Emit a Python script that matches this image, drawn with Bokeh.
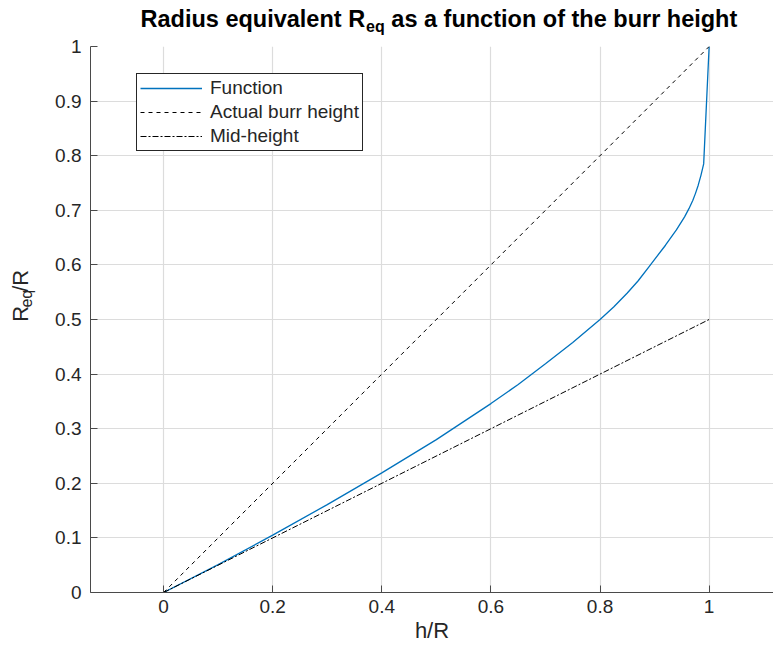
import math
from bokeh.plotting import figure
from bokeh.layouts import column, row
from bokeh.models import Range1d, FixedTicker, Legend, LegendItem
from bokeh.core.properties import value
from bokeh.embed import file_html
from bokeh.resources import INLINE

# ---- data ----
h_over_r = [0, 0.1, 0.2, 0.3, 0.4, 0.5, 0.6, 0.65, 0.7, 0.75, 0.8, 0.825,
            0.85, 0.87, 0.89, 0.92, 0.94, 0.955, 0.963, 0.97, 0.975, 0.98,
            0.985, 0.99, 1.0]
req_over_r = [0, 0.051, 0.105, 0.161, 0.219, 0.28, 0.346, 0.381, 0.419, 0.458,
              0.5, 0.523, 0.5485, 0.571, 0.597, 0.636, 0.664, 0.688, 0.703,
              0.718, 0.731, 0.746, 0.764, 0.785, 1.0]
actual_x = [0, 1]
actual_y = [0, 1]
mid_x = [0, 1]
mid_y = [0, 0.5]

x_ticks = [0, 0.2, 0.4, 0.6, 0.8, 1.0]
x_tick_labels = ["0", "0.2", "0.4", "0.6", "0.8", "1"]
y_ticks = [0, 0.1, 0.2, 0.3, 0.4, 0.5, 0.6, 0.7, 0.8, 0.9, 1.0]
y_tick_labels = ["0", "0.1", "0.2", "0.3", "0.4", "0.5", "0.6", "0.7", "0.8", "0.9", "1"]

legend_labels = ["Function", "Actual burr height", "Mid-height"]
title_parts = ["Radius equivalent R", "eq", "as a function of the burr height"]
ylabel_parts = ["R", "eq", "/R"]
xlabel = "h/R"

FONT = "Liberation Sans"
AXIS_COLOR = "#4a4a4a"
TEXT_COLOR = "#262626"
MID = 0.3465  # em offset between alphabetic baseline and box middle

W, H = 773, 658
TITLE_H = 35
YLAB_W = 48
MAIN_H = H - TITLE_H
FRAME_TOP = 46

# ---------------- main plot ----------------
p = figure(width=W - YLAB_W, height=MAIN_H, output_backend="svg",
           toolbar_location=None, title_location=None,
           x_range=Range1d(-0.134, 1.118), y_range=Range1d(0, 1),
           min_border_left=42, min_border_right=0,
           min_border_top=FRAME_TOP - TITLE_H, min_border_bottom=66)
p.outline_line_color = None
p.background_fill_color = "white"
p.border_fill_color = "white"

r_func = p.line(h_over_r, req_over_r, line_color="#0072BD", line_width=1.3)
r_act = p.line(actual_x, actual_y, line_color="black", line_width=1,
               line_dash="4 4")
r_mid = p.line(mid_x, mid_y, line_color="black", line_width=1,
               line_dash="6 2 2 2")

for ax, ticks, labels in ((p.xaxis[0], x_ticks, x_tick_labels),
                          (p.yaxis[0], y_ticks, y_tick_labels)):
    ax.ticker = FixedTicker(ticks=ticks)
    ax.major_label_overrides = {t: l for t, l in zip(ticks, labels)}
    ax.major_tick_in = 7
    ax.major_tick_out = 0
    ax.minor_tick_line_color = None
    ax.axis_line_color = AXIS_COLOR
    ax.major_tick_line_color = AXIS_COLOR
    ax.major_label_text_font = FONT
    ax.major_label_text_font_size = "19px"
    ax.major_label_text_color = TEXT_COLOR

p.xaxis.major_label_standoff = 7
p.yaxis.major_label_standoff = 9
p.xaxis.axis_label = xlabel
p.xaxis.axis_label_text_font = FONT
p.xaxis.axis_label_text_font_size = "22px"
p.xaxis.axis_label_text_font_style = "normal"
p.xaxis.axis_label_text_color = TEXT_COLOR
p.xaxis.axis_label_standoff = 2

p.xgrid.ticker = FixedTicker(ticks=x_ticks)
p.ygrid.ticker = FixedTicker(ticks=y_ticks)
p.grid.grid_line_color = "#dcdcdc"
p.grid.grid_line_width = 1.2

legend = Legend(items=[LegendItem(label=legend_labels[0], renderers=[r_func]),
                       LegendItem(label=legend_labels[1], renderers=[r_act]),
                       LegendItem(label=legend_labels[2], renderers=[r_mid])],
                location=(46, 441), glyph_width=62, glyph_height=22,
                label_height=22, label_standoff=8, spacing=2, padding=3,
                margin=0, label_text_font=FONT, label_text_font_size="19px",
                label_text_color=TEXT_COLOR, border_line_color=TEXT_COLOR,
                border_line_alpha=1.0, border_line_width=1,
                background_fill_alpha=1.0)
p.add_layout(legend, "center")

# ---------------- title strip (pixel coordinates, y up) ----------------
t = figure(width=W, height=TITLE_H, output_backend="svg", toolbar_location=None,
           title_location=None,
           x_range=Range1d(0, W), y_range=Range1d(0, TITLE_H),
           x_axis_type=None, y_axis_type=None, min_border=0)
t.outline_line_color = None
t.grid.visible = False
TF = 23.5
SF = 16
x1 = 140
x2 = x1 + 9.558 * TF + 1
x3 = x2 + 1.167 * SF + 0.278 * TF
base_main = 27.0   # canvas px, top-down
base_sub = 31.4
ym_main = TITLE_H - (base_main - MID * TF)
ym_sub = TITLE_H - (base_sub - MID * SF)
t.text(x=[x1], y=[ym_main], text=[title_parts[0]], text_font=value(FONT),
       text_font_size=f"{TF}px", text_font_style="bold", text_color="black",
       text_align="left", text_baseline="middle")
t.text(x=[x2], y=[ym_sub], text=[title_parts[1]], text_font=value(FONT),
       text_font_size=f"{SF}px", text_font_style="bold", text_color="black",
       text_align="left", text_baseline="middle")
t.text(x=[x3], y=[ym_main], text=[title_parts[2]], text_font=value(FONT),
       text_font_size=f"{TF}px", text_font_style="bold", text_color="black",
       text_align="left", text_baseline="middle")

# ---------------- y label strip (pixel coordinates, y up) ----------------
yl = figure(width=YLAB_W, height=MAIN_H, output_backend="svg",
            toolbar_location=None, title_location=None,
            x_range=Range1d(0, YLAB_W),
            y_range=Range1d(0, MAIN_H), x_axis_type=None, y_axis_type=None,
            min_border=0)
yl.outline_line_color = None
yl.grid.visible = False
YF = 22
YS = 16
base_r = 28.0      # canvas x of the main baseline
base_e = 32.0      # canvas x of the subscript baseline
start = 348.0      # canvas y where the label starts (bottom end)
wR = 0.722 * YF
wE = 1.112 * YS
wS = 1.0 * YF
c_R = start - wR / 2
c_E = start - wR - 0.5 - wE / 2
c_S = start - wR - 0.5 - wE - 0.5 - wS / 2


def up(cy):
    return H - cy  # canvas y (top-down) -> strip coordinate (y up)


yl.text(x=[base_r - MID * YF], y=[up(c_R)], text=[ylabel_parts[0]],
        angle=math.pi / 2, text_font=value(FONT), text_font_size=f"{YF}px",
        text_color=TEXT_COLOR, text_align="center", text_baseline="middle")
yl.text(x=[base_e - MID * YS], y=[up(c_E)], text=[ylabel_parts[1]],
        angle=math.pi / 2, text_font=value(FONT), text_font_size=f"{YS}px",
        text_color=TEXT_COLOR, text_align="center", text_baseline="middle")
yl.text(x=[base_r - MID * YF], y=[up(c_S)], text=[ylabel_parts[2]],
        angle=math.pi / 2, text_font=value(FONT), text_font_size=f"{YF}px",
        text_color=TEXT_COLOR, text_align="center", text_baseline="middle")

layout = column(t, row(yl, p, spacing=0), spacing=0)
open("out.html", "w").write(file_html(layout, INLINE))
